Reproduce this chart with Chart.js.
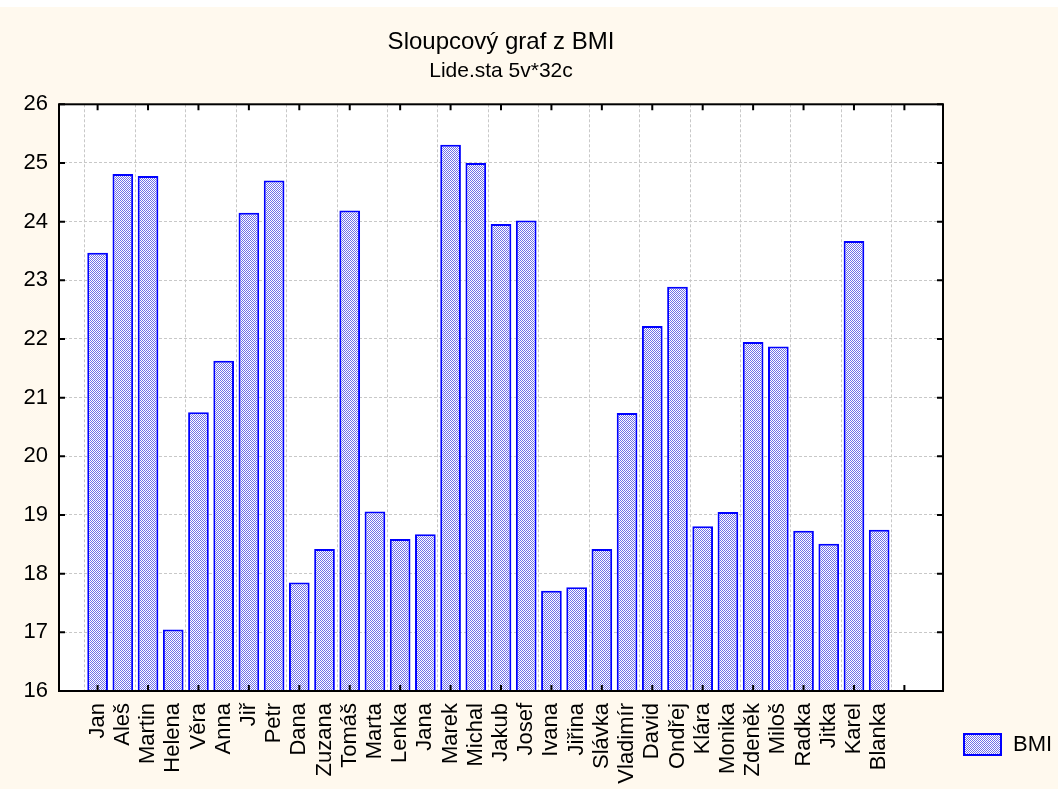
<!DOCTYPE html>
<html>
<head>
<meta charset="utf-8">
<script src="https://cdn.jsdelivr.net/npm/chart.js@4.4.0/dist/chart.umd.min.js"></script>
<style>
  body { margin: 0; background: #fff9ee; }
  #wrap { position: relative; width: 1058px; height: 789px; }
  #topstrip { position: absolute; left: 0; top: 0; width: 1058px; height: 7px; background: #fff; }
  #swatch { position: absolute; left: 963px; top: 733px; width: 39px; height: 23px; box-sizing: border-box;
    border: 2px solid #0000ff; }
  #legtext { position: absolute; left: 1013px; top: 731px; font: 22px 'Liberation Sans', Arial, sans-serif; color: #000; }
</style>
</head>
<body>
<div id="wrap">
  <div id="topstrip"></div>
  <canvas id="c"></canvas>
  <div id="swatch"></div>
  <div id="legtext">BMI</div>
</div>
<script>
// data
const names = ['Jan', 'Aleš', 'Martin', 'Helena', 'Věra', 'Anna', 'Jiř', 'Petr', 'Dana', 'Zuzana',
  'Tomáš', 'Marta', 'Lenka', 'Jana', 'Marek', 'Michal', 'Jakub', 'Josef', 'Ivana', 'Jiřina',
  'Slávka', 'Vladimír', 'David', 'Ondřej', 'Klára', 'Monika', 'Zdeněk', 'Miloš', 'Radka', 'Jitka',
  'Karel', 'Blanka'];
const bmi = [23.47, 24.81, 24.78, 17.05, 20.75, 21.63, 24.15, 24.70, 17.85, 18.42,
  24.19, 19.06, 18.59, 18.67, 25.31, 25.00, 23.96, 24.02, 17.71, 17.77,
  18.42, 20.74, 22.22, 22.89, 18.81, 19.05, 21.95, 21.87, 18.73, 18.51,
  23.67, 18.75];
const yTicks = [16, 17, 18, 19, 20, 21, 22, 23, 24, 25, 26];
const xSlots = names.map((n, i) => i + 1).concat([names.length + 1]);

const family = "'Liberation Sans', Arial, sans-serif";
const font = { family: family, size: 22 };

const canvas = document.getElementById('c');
const ctx = canvas.getContext('2d');

// fine blue/white dither like the original fill
const tile = document.createElement('canvas');
tile.width = 2; tile.height = 2;
const tctx = tile.getContext('2d');
tctx.fillStyle = '#ffffff'; tctx.fillRect(0, 0, 2, 2);
tctx.fillStyle = '#7070e8'; tctx.fillRect(0, 0, 1, 1); tctx.fillRect(1, 1, 1, 1);
const fill = ctx.createPattern(tile, 'repeat');
document.getElementById('swatch').style.background = 'url(' + tile.toDataURL() + ')';

// white plot area, black frame and inward tick marks
const framePlugin = {
  id: 'frame',
  beforeDraw(chart) {
    const a = chart.chartArea;
    chart.ctx.save();
    chart.ctx.fillStyle = '#ffffff';
    chart.ctx.fillRect(a.left, a.top, a.width, a.height);
    chart.ctx.restore();
  },
  afterDraw(chart) {
    const c = chart.ctx, a = chart.chartArea, x = chart.scales.x, y = chart.scales.y;
    c.save();
    c.strokeStyle = '#000';
    c.lineWidth = 2;
    c.strokeRect(a.left, a.top, a.width, a.height);
    c.beginPath();
    y.ticks.forEach(t => {
      const p = y.getPixelForValue(t.value);
      c.moveTo(a.left, p); c.lineTo(a.left + 6, p);
      c.moveTo(a.right, p); c.lineTo(a.right - 6, p);
    });
    x.ticks.forEach(t => {
      if (t.value % 2 !== 1) return;
      const p = x.getPixelForValue(t.value);
      c.moveTo(p, a.bottom); c.lineTo(p, a.bottom - 6);
      c.moveTo(p, a.top); c.lineTo(p, a.top + 6);
    });
    c.stroke();
    c.restore();
  }
};

canvas.width = 1058;
canvas.height = 789;

new Chart(ctx, {
  type: 'bar',
  data: {
    datasets: [{
      label: 'BMI',
      data: names.map((n, i) => ({ x: i + 1, y: bmi[i] })),
      backgroundColor: fill,
      borderColor: '#0000ff',
      borderWidth: 2,
      barPercentage: 0.82,
      categoryPercentage: 1
    }]
  },
  options: {
    responsive: false,
    animation: false,
    layout: { padding: { left: 0, right: 115, top: 0, bottom: 0 } },
    scales: {
      x: {
        type: 'linear',
        min: 0,
        max: 34,
        afterBuildTicks: s => { s.ticks = xSlots.map(v => ({ value: v })); },
        afterFit: s => { s.height = 98; },
        ticks: {
          autoSkip: false,
          minRotation: 90,
          maxRotation: 90,
          padding: 12,
          color: '#000',
          font: font,
          callback: v => names[v - 1] || ''
        },
        grid: {
          drawTicks: false,
          color: c => (c.tick && c.tick.value % 2 === 1) ? '#c8c8c8' : 'rgba(0,0,0,0)'
        },
        border: { display: false, dash: [3, 2] }
      },
      y: {
        min: 16,
        max: 26,
        afterBuildTicks: s => { s.ticks = yTicks.map(v => ({ value: v })); },
        afterFit: s => { s.width = 59; },
        ticks: { padding: 11, color: '#000', font: font },
        grid: { drawTicks: false, color: '#c8c8c8' },
        border: { display: false, dash: [3, 2] }
      }
    },
    plugins: {
      legend: { display: false },
      tooltip: { enabled: false },
      title: {
        display: true,
        fullSize: false,
        text: 'Sloupcový graf z BMI',
        color: '#000',
        font: { family: family, size: 24, weight: 'normal', lineHeight: 1.2 },
        padding: { top: 27.6, bottom: 0 }
      },
      subtitle: {
        display: true,
        fullSize: false,
        text: 'Lide.sta 5v*32c',
        color: '#000',
        font: { family: family, size: 21, weight: 'normal', lineHeight: 1.2 },
        padding: { top: 2, bottom: 20.7 }
      }
    }
  },
  plugins: [framePlugin]
});
</script>
</body>
</html>
